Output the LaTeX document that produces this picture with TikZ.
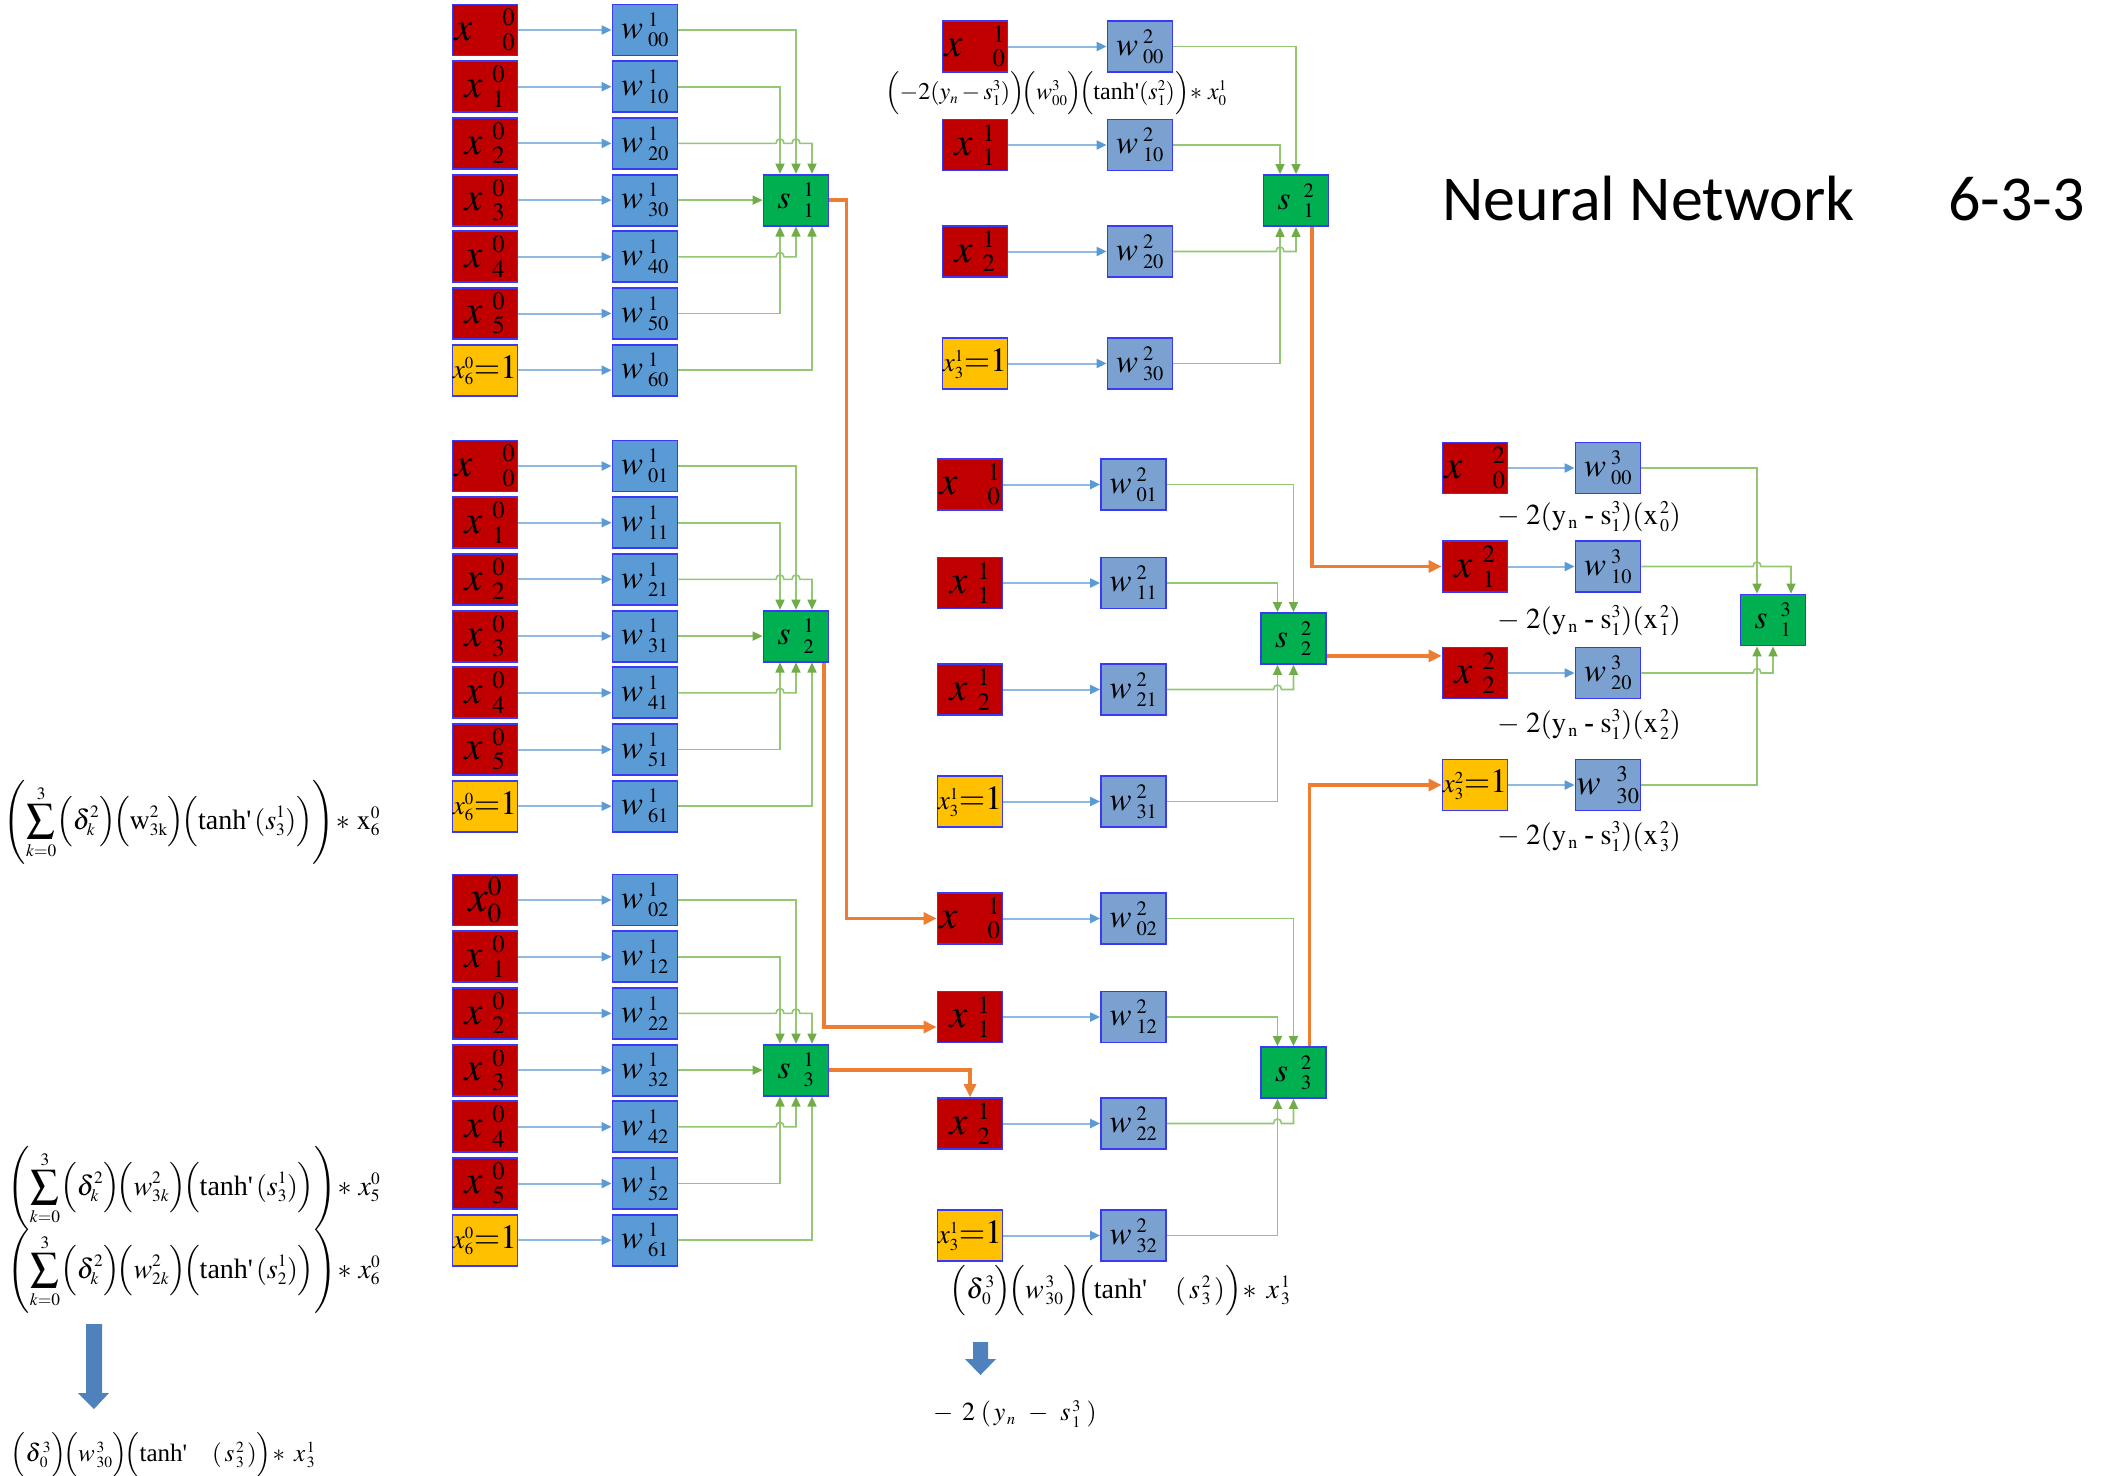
\documentclass[tikz,border=0pt]{standalone}
\usepackage{amsmath}
\usepackage{mathptmx}
\usepackage{fontspec}
\setmainfont{Liberation Serif}
\newfontfamily\titlefont{Carlito}
\usetikzlibrary{arrows.meta,calc}
\renewcommand\defaultscriptratio{.62}
\definecolor{xred}{HTML}{C00000}
\definecolor{xyel}{HTML}{FFC000}
\definecolor{wblA}{HTML}{5B9BD5}
\definecolor{wblB}{HTML}{7AA1CF}
\definecolor{sgrn}{HTML}{00B050}
\definecolor{bord}{HTML}{3A3AF5}
\definecolor{lblue}{HTML}{8FB9E2}
\definecolor{lgreen}{HTML}{93C774}
\definecolor{dgreen}{HTML}{70AD47}
\definecolor{orng}{HTML}{ED7D31}
\definecolor{bigarr}{HTML}{4F81BD}
\newcommand\blab[4]{$#1\hspace{#2}{}^{#3}_{#4}$}
\newcommand\ylab[2]{{\fontsize{27}{27}\selectfont$x^{#1}_{#2}$}{\fontsize{34}{34}\selectfont${=}1$}}
\newcommand\tnh{\text{tanh\textquotesingle}}
\begin{document}
\begin{tikzpicture}[x=1pt,y=-1pt,
  box/.style={draw=bord,line width=1.8pt,minimum width=65pt,minimum height=51pt,inner sep=0pt},
  xbox/.style={box,fill=xred,font=\fontsize{40}{40}\selectfont},
  ybox/.style={box,fill=xyel},
  wboxA/.style={box,fill=wblA,font=\fontsize{33}{33}\selectfont},
  wboxB/.style={box,fill=wblB,font=\fontsize{33}{33}\selectfont},
  sbox/.style={box,fill=sgrn,font=\fontsize{33}{33}\selectfont},
  barr/.style={draw=lblue,line width=2pt,-{Triangle[length=10pt,width=9pt,color=wblA]}},
  gar/.style={draw=lgreen,line width=1.6pt,-{Triangle[length=10pt,width=9pt,color=dgreen]}},
  oar/.style={draw=orng,line width=3.5pt,-{Triangle[length=13pt,width=12pt]}},
  hop/.style={insert path={.. controls +(0,-6) and +(0,-6) .. ++(8,0)}},
  fml/.style={inner sep=0pt}]
\fill[white] (0,0) rectangle (2119,1475);
\useasboundingbox (0,0) rectangle (2119,1475);

% ---------- layer 1 ----------
\foreach \g/\Y in {0/30,1/466,2/900}{
  \pgfmathtruncatemacro\gn{\g+1}
  \foreach \k in {1,...,5}{
    \node[xbox] (xa\g\k) at (485,{\Y+56.7*\k}) {\blab{x}{.25em}{0}{\k}};
  }
  \foreach \k in {0,...,5}{
    \node[wboxA] (wa\g\k) at (645,{\Y+56.7*\k}) {\blab{w}{.15em}{1}{\k\g}};
  }
  \node[ybox] (xa\g6) at (485,{\Y+340.2}) {\ylab{0}{6}};
  \node[sbox] (sa\g) at (796,{\Y+170.1}) {\blab{s}{.4em}{1}{\gn}};
}
\node[xbox] (xa00) at (485,30) {\blab{x}{.75em}{0}{0}};
\node[xbox] (xa10) at (485,466) {\blab{x}{.75em}{0}{0}};
\node[xbox,font=\fontsize{44}{44}\selectfont] (xa20) at (485,900) {$x^{0}_{0}$};
\node[wboxA] (wa06) at (645,370.2) {\blab{w}{.15em}{1}{60}};
\node[wboxA] (wa16) at (645,806.2) {\blab{w}{.15em}{1}{61}};
\node[wboxA] (wa26) at (645,1240.2) {\blab{w}{.15em}{1}{61}};

\foreach \g in {0,1,2}{
  \coordinate (aL\g) at ($(sa\g.center)+(-16,0)$);
  \coordinate (aM\g) at (sa\g.center);
  \coordinate (aR\g) at ($(sa\g.center)+(16,0)$);
  \foreach \k in {0,...,6}{\draw[barr] (xa\g\k.east) -- (wa\g\k.west);}
  \draw[gar] (wa\g0.east) -| (sa\g.north -| aM\g);
  \draw[gar] (wa\g1.east) -| (sa\g.north -| aL\g);
  \draw[gar] (wa\g2.east) -- ($(wa\g2.east -| aL\g)+(-4,0)$) [hop] -- ($(wa\g2.east -| aM\g)+(-4,0)$) [hop] -| (sa\g.north -| aR\g);
  \draw[gar] (wa\g3.east) -- (wa\g3.east -| sa\g.west);
  \draw[gar] (wa\g4.east) -- ($(wa\g4.east -| aL\g)+(-4,0)$) [hop] -| (sa\g.south -| aM\g);
  \draw[gar] (wa\g5.east) -| (sa\g.south -| aL\g);
  \draw[gar] (wa\g6.east) -| (sa\g.south -| aR\g);
}

% ---------- layer 2 ----------
\foreach \g/\Y/\XX/\WW/\SS in {0/46.5/975/1140/1296,1/484.5/970/1133.5/1293.5,2/918.5/970/1133.5/1293.5}{
  \pgfmathtruncatemacro\gn{\g+1}
  \node[xbox] (xb\g0) at (\XX,\Y) {\blab{x}{.75em}{1}{0}};
  \node[xbox] (xb\g1) at (\XX,{\Y+98.5}) {\blab{x}{.25em}{1}{1}};
  \node[xbox] (xb\g2) at (\XX,{\Y+205}) {\blab{x}{.25em}{1}{2}};
  \node[ybox] (xb\g3) at (\XX,{\Y+317}) {\ylab{1}{3}};
  \foreach \k/\o in {0/0,1/98.5,2/205,3/317}{
    \node[wboxB] (wb\g\k) at (\WW,{\Y+\o}) {\blab{w}{.15em}{2}{\k\g}};
    \draw[barr] (xb\g\k.east) -- (wb\g\k.west);
  }
  \node[sbox] (sb\g) at (\SS,{\Y+154}) {\blab{s}{.4em}{2}{\gn}};
  \coordinate (bL\g) at ($(sb\g.center)+(-16,0)$);
  \draw[gar] (wb\g0.east) -| (sb\g.north);
  \draw[gar] (wb\g1.east) -| (sb\g.north -| bL\g);
  \draw[gar] (wb\g2.east) -- ($(wb\g2.east -| bL\g)+(-4,0)$) [hop] -| (sb\g.south);
  \draw[gar] (wb\g3.east) -| (sb\g.south -| bL\g);
}

% ---------- layer 3 ----------
\node[xbox] (xc0) at (1475,468) {\blab{x}{.75em}{2}{0}};
\node[xbox] (xc1) at (1475,566.5) {\blab{x}{.25em}{2}{1}};
\node[xbox] (xc2) at (1475,673) {\blab{x}{.25em}{2}{2}};
\node[ybox] (xc3) at (1475,785) {\ylab{2}{3}};
\node[wboxB] (wc0) at (1608,468) {\blab{w}{.15em}{3}{00}};
\node[wboxB] (wc1) at (1608,566.5) {\blab{w}{.15em}{3}{10}};
\node[wboxB] (wc2) at (1608,673) {\blab{w}{.15em}{3}{20}};
\node[wboxB,font=\fontsize{36}{36}\selectfont] (wc3) at (1608,785) {\blab{w}{.45em}{3}{30}};
\node[sbox] (sc) at (1773,620) {\blab{s}{.4em}{3}{1}};
\coordinate (cL) at ($(sc.center)+(-16,0)$);
\coordinate (cR) at ($(sc.center)+(18,0)$);
\foreach \k in {0,...,3}{\draw[barr] (xc\k.east) -- (wc\k.west);}
\draw[gar] (wc0.east) -| (sc.north -| cL);
\draw[gar] (wc1.east) -- ($(wc1.east -| cL)+(-4,0)$) [hop] -| (sc.north -| cR);
\draw[gar] (wc2.east) -- ($(wc2.east -| cL)+(-4,0)$) [hop] -| (sc.south);
\draw[gar] (wc3.east) -| (sc.south -| cL);

% ---------- orange links ----------
\draw[oar] (sa0.east) -- ++(17,0) |- (xb20.west);
\draw[oar] ($(sa1.south)+(28,0)$) |- ($(xb21.west)+(0,10)$);
\draw[oar] (sa2.east) -| (xb22.north);
\draw[oar] ($(sb0.south)+(16,0)$) |- (xc1.west);
\coordinate (o2) at ($(sb1.south east)+(0,-9)$);
\draw[oar] (o2) -- (o2 -| xc2.west);
\draw[oar] ($(sb2.north)+(16,0)$) |- (xc3.west);

% ---------- formulas ----------
\node[fml,font=\fontsize{24}{24}\selectfont] (f1) at (1056,93.5)
  {$\Bigl(-2(y_n-s^3_1)\Bigr)\!\Bigl(w^3_{00}\Bigr)\!\Bigl(\tnh(s^2_1)\Bigr)\!*\,x^1_0$};
\foreach \k/\yy in {0/516.5,1/620.5,2/724.5,3/836.5}{
  \node[fml,font=\fontsize{29}{29}\selectfont] (fc\k) at (1589,\yy)
    {$-\;2(\mathrm{y}_{\,\mathrm{n}}\;\text{\textbf{-}}\;\mathrm{s}^{3}_{1})(\mathrm{x}^{\,2}_{\,\k})$};
}
\node[fml,font=\fontsize{28}{28}\selectfont] (fa) at (192,822)
  {$\left(\displaystyle\sum_{k=0}^{3}\Bigl(\delta^2_k\Bigr)\!\Bigl(\mathrm{w}^{2}_{3\mathrm{k}}\Bigr)\!\Bigl(\tnh\,(s^1_3)\Bigr)\right)\!*\,\mathrm{x}^0_6$};
\node[fml,font=\fontsize{28}{28}\selectfont] (fb) at (194,1188)
  {$\left(\displaystyle\sum_{k=0}^{3}\Bigl(\delta^2_k\Bigr)\!\Bigl(w^{2}_{3k}\Bigr)\!\Bigl(\tnh\,(s^1_3)\Bigr)\right)\!*\,x^0_5$};
\node[fml,font=\fontsize{28}{28}\selectfont] (fb2) at (194,1271)
  {$\left(\displaystyle\sum_{k=0}^{3}\Bigl(\delta^2_k\Bigr)\!\Bigl(w^{2}_{2k}\Bigr)\!\Bigl(\tnh\,(s^1_2)\Bigr)\right)\!*\,x^0_6$};
\node[fml,font=\fontsize{25}{25}\selectfont] (fcc) at (163,1455)
  {$\Bigl(\delta^{\,3}_{\,0}\Bigr)\!\Bigl(w^{\,3}_{\,30}\Bigr)\!\Bigl(\tnh\quad(\,s^{\,2}_{\,3}\,)\Bigr)\!*\;x^{\,1}_{\,3}$};
\node[fml,font=\fontsize{28}{28}\selectfont] (fd) at (1120,1291)
  {$\Bigl(\delta^{\,3}_{\,0}\Bigr)\!\Bigl(w^{\,3}_{\,30}\Bigr)\!\Bigl(\tnh\quad(\,s^{\,2}_{\,3}\,)\Bigr)\!*\;x^{\,1}_{\,3}$};
\node[fml,font=\fontsize{26}{26}\selectfont] (fe) at (1015,1414)
  {$-\;\,2\,\,(\,y_{\,n}\;\,-\;\,s^{\,3}_{\,1}\,\,)$};

% ---------- big arrows ----------
\fill[bigarr] (86,1324) -- (102,1324) -- (102,1393) -- (109,1393) -- (94,1409) -- (78,1393) -- (86,1393) -- cycle;
\fill[bigarr] (973,1342) -- (988,1342) -- (988,1359) -- (996,1359) -- (980.5,1375) -- (965,1359) -- (973,1359) -- cycle;

% ---------- title ----------
\node[anchor=base west,inner sep=0pt,font=\titlefont\fontsize{64}{64}\selectfont] (title) at (1442,220) {Neural Network};
\node[anchor=base west,inner sep=0pt,font=\titlefont\fontsize{64}{64}\selectfont] (title2) at (1948,220) {6-3-3};
\end{tikzpicture}
\end{document}
